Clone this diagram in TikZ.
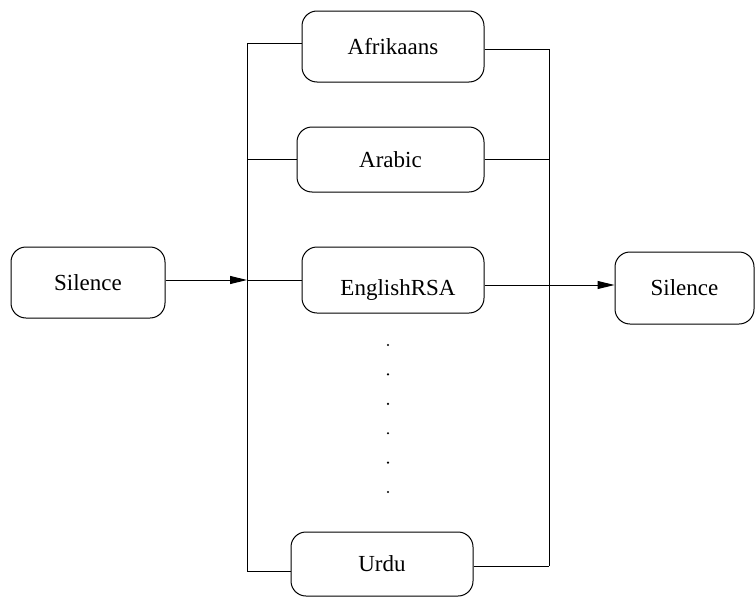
\documentclass[tikz,border=0pt]{standalone}
\usepackage{fontspec}
\setmainfont{Liberation Serif}
\usepackage{tikz}
\usetikzlibrary{arrows.meta}

\tikzset{
    langbox/.style={draw, rounded corners=15pt, line width=1pt, inner sep=0pt,
        minimum width=182pt, minimum height=66pt,
        font=\fontsize{23}{27}\selectfont},
    arr/.style={-{Triangle[length=17pt,width=8pt]}}
}

\begin{document}
\begin{tikzpicture}[x=1pt, y=-1pt, line width=1pt]
            \useasboundingbox (0,0) rectangle (755,597);
            % start and end silence
            \node[langbox, minimum width=154pt, minimum height=71pt] (sil1) at (88,282.5) {Silence};
            \node[langbox, minimum width=139pt, minimum height=72pt] (sil2) at (684.5,288) {Silence};
            % language models
            \node[langbox, minimum height=71pt] (afr) at (393,46.5) {Afrikaans};
            \node[langbox, minimum width=187pt, minimum height=65pt] (ara) at (390.5,159.5) {Arabic};
            \node[langbox] (eng) at (393,280) {\hspace{10pt}\raisebox{-10pt}[\height][\depth]{EnglishRSA}};
            \node[langbox, minimum height=64pt] (urd) at (382,564) {Urdu};
            % bus lines
            \coordinate (lt) at (247,43);
            \coordinate (lb) at (247,571);
            \coordinate (rt) at (549,49);
            \coordinate (rb) at (549,566);
            \draw (lt) -- (lb);
            \draw (rt) -- (rb);
            \draw[arr] ([yshift=2.5pt]sil1.east) -- ([yshift=2.5pt]sil1.east -| lt);
            \draw (lt) -- (lt -| afr.west);
            \draw (afr.east |- rt) -- (rt);
            \draw (ara.west -| lt) -- (ara.west);
            \draw (ara.east) -- (ara.east -| rt);
            \draw (eng.west -| lt) -- (eng.west);
            \draw[arr] ([yshift=-5pt]eng.east) -- ([yshift=-5pt]eng.east -| sil2.west);
            \draw (lb) -- (lb -| urd.west);
            \draw (urd.east |- rb) -- (rb);
            % dots
            \foreach \y in {345,374.4,403.8,433.2,462.6,492}
                \fill (388,\y) circle (1.2pt);
        \end{tikzpicture}
\end{document}
